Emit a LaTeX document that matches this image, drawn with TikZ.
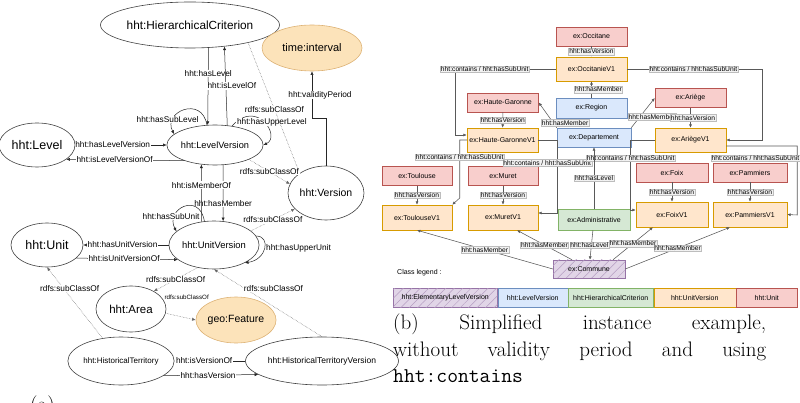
\documentclass[tikz,border=0pt]{standalone}
\usepackage{fontspec}
\newfontfamily\diafont{Liberation Sans}
\usetikzlibrary{shapes.geometric, arrows.meta, positioning, patterns.meta}
\definecolor{cunit}{HTML}{F8CECC}
\definecolor{cunitd}{HTML}{B85450}
\definecolor{cvers}{HTML}{FFE6CC}
\definecolor{cversd}{HTML}{D79B00}
\definecolor{clev}{HTML}{DAE8FC}
\definecolor{clevd}{HTML}{6C8EBF}
\definecolor{ccrit}{HTML}{D5E8D4}
\definecolor{ccritd}{HTML}{82B366}
\definecolor{celem}{HTML}{E1D5E7}
\definecolor{celemd}{HTML}{9673A6}
\definecolor{cext}{HTML}{FCE3BA}
\definecolor{cextd}{HTML}{DDB275}
\definecolor{clblbg}{HTML}{F2F2F2}
\definecolor{clbldr}{HTML}{BDBDBD}
\tikzset{
  % font size helper
  fs/.style={font=\diafont\fontsize{#1}{#1}\selectfont},
  % ontology class
  cls/.style={ellipse, draw=black!75, line width=0.6pt, inner sep=0pt},
  extcls/.style={cls, fill=cext, draw=cextd},
  % property between classes
  prop/.style={-{Latex[length=3.6pt,width=3.2pt]}, line width=0.5pt, black!85},
  subcl/.style={prop, densely dotted, black!60},
  plbl/.style={fs=8.3, fill=white, inner sep=0.6pt, text=black},
  % instance boxes
  inst/.style={draw, line width=0.5pt, minimum width=71pt, minimum height=19pt,
    inner sep=0pt, fs=7},
  iunit/.style={inst, fill=cunit, draw=cunitd},
  ivers/.style={inst, fill=cvers, draw=cversd, minimum height=24pt},
  ilev/.style={inst, fill=clev, draw=clevd},
  icrit/.style={inst, fill=ccrit, draw=ccritd},
  ielem/.style={inst, fill=celem, draw=celemd,
    postaction={pattern={Lines[angle=45,distance=6pt,line width=0.5pt]}, pattern color=celemd!70}},
  % links between instances
  link/.style={-{Latex[length=3.4pt,width=3pt]}, line width=0.55pt, black!65},
  ilbl/.style={fs=6.7, fill=clblbg, draw=clbldr, line width=0.3pt, inner sep=0.7pt, text=black},
}
\begin{document}
\begin{tikzpicture}[x=1pt, y=-1pt, node distance=0pt]
  \useasboundingbox (0,0) rectangle (800,403);
  \node[cls, minimum width=144pt, minimum height=46pt, fs=11.8] (hc) at (190,25) {hht:HierarchicalCriterion};
  \node[extcls, minimum width=100pt, minimum height=46pt, fs=11] (ti) at (312,48) {time:interval};
  \node[cls, minimum width=76pt, minimum height=44pt, fs=12.5] (lvl) at (37,145) {hht:Level};
  \node[cls, minimum width=76pt, minimum height=40pt, fs=9.2] (lv) at (215,145) {hht:LevelVersion};
  \node[cls, minimum width=76pt, minimum height=54pt, fs=10.5] (vs) at (326,193) {hht:Version};
  \node[cls, minimum width=76pt, minimum height=48pt, fs=9.4] (uv) at (214,245) {hht:UnitVersion};
  \node[cls, minimum width=72pt, minimum height=44pt, fs=12.5] (un) at (47,245) {hht:Unit};
  \node[cls, minimum width=70pt, minimum height=46pt, fs=11.5] (ar) at (131,309) {hht:Area};
  \node[extcls, minimum width=70pt, minimum height=46pt, fs=10.5] (gf) at (236,320) {geo:Feature};
  \node[cls, minimum width=92pt, minimum height=48pt, fs=8] (ht) at (121,361) {hht:HistoricalTerritory};
  \node[cls, minimum width=126pt, minimum height=48pt, fs=8.5] (htv) at (322,361) {hht:HistoricalTerritoryVersion};
  \draw[prop] (hc.-51) -- node[plbl, pos=0.33] {hht:hasLevel} (lv.110);
  \draw[prop] (lv.58) -- node[plbl, pos=0.5, xshift=6pt] {hht:isLevelOf} (hc.-32);
  \draw[prop] (lvl.east) -- node[plbl, pos=0.41] {hht:hasLevelVersion} (lv.west);
  \draw[prop] (lv.-153) -- node[plbl, pos=0.59] {hht:isLevelVersionOf} (lvl.-26);
  \draw[prop] (lv.112) .. controls +(-5,-30) and +(-12,-22) .. node[plbl, pos=0.75, xshift=-6pt] {hht:hasSubLevel} (lv.165);
  \draw[prop] (lv.48) .. controls +(25,-28) and +(18,-8) .. node[plbl, pos=0.5, xshift=8pt] {hht:hasUpperLevel} (lv.east);
  \draw[prop] (lv.-68) -- node[plbl, pos=0.68] {hht:hasMember} (uv.69);
  \draw[prop] (uv.118) -- node[plbl, pos=0.64] {hht:isMemberOf} (lv.-125);
  \draw[prop] (uv.112) .. controls +(-5,-30) and +(-12,-22) .. node[plbl, pos=0.75, xshift=-4pt] {hht:hasSubUnit} (uv.160);
  \draw[prop] (uv.12) .. controls +(15,0) and +(22,-3) .. node[plbl, pos=0.5, anchor=west, xshift=1pt] {hht:hasUpperUnit} (uv.-30);
  \draw[prop] (uv.west) -- node[plbl, pos=0.54] {hht:hasUnitVersion} (un.east);
  \draw[prop] (un.-24) -- node[plbl, pos=0.47] {hht:isUnitVersionOf} (uv.-158);
  \draw[subcl] (hc.-17) -- node[plbl, pos=0.51] {rdfs:subClassOf} (vs.143);
  \draw[subcl] (lv.-23) -- node[plbl, pos=0.5] {rdfs:subClassOf} (vs.166);
  \draw[subcl] (uv.21) -- node[plbl, pos=0.5] {rdfs:subClassOf} (vs.-153);
  \draw[subcl] (uv.-126) -- node[plbl, pos=0.5] {rdfs:subClassOf} (ar.38);
  \draw[subcl] (ar.-7) -- node[plbl, fs=6.2, pos=0.5, xshift=6pt, yshift=19pt] {rdfs:subClassOf} (gf.west);
  \draw[subcl] (ht.129) -- node[plbl, pos=0.7, xshift=6pt] {rdfs:subClassOf} (un.south);
  \draw[subcl] (htv.north) -- node[plbl, pos=0.45, yshift=18pt] {rdfs:subClassOf} (uv.south);
  \draw[prop] (htv.west) -- node[plbl, pos=0.58] {hht:isVersionOf} (ht.east);
  \draw[prop] (ht.-19) -- node[plbl, pos=0.47] {hht:hasVersion} (htv.-168);
  \draw[prop] (vs.north) -- ++(0,-47) -| node[plbl, pos=0.75, xshift=8pt] {hht:validityPeriod} (ti.south);
  \node[anchor=north west, inner sep=0pt, font=\fontsize{21}{26.5}\selectfont] (capa) at (30,396) {(a)};

  \node[iunit] (occ) at (591.5,36.5) {ex:Occitane};
  \node[ivers] (occv) at (591.5,69) {ex:OccitanieV1};
  \node[ilev, minimum height=20pt] (reg) at (591.5,108) {ex:Region};
  \node[iunit] (hg) at (503,102.5) {ex:Haute-Garonne};
  \node[ivers] (hgv) at (502.5,140) {ex:Haute-GaronneV1};
  \node[ilev, minimum width=74pt] (dep) at (594,137.5) {ex:Departement};
  \node[iunit] (ari) at (690.5,98) {ex:Ariège};
  \node[ivers] (ariv) at (690.5,140) {ex:AriègeV1};
  \node[iunit, minimum width=70pt] (tou) at (417,176) {ex:Toulouse};
  \node[ivers, minimum width=70pt, minimum height=25pt] (touv) at (417,217.5) {ex:ToulouseV1};
  \node[iunit, minimum width=70pt] (mur) at (503,176) {ex:Muret};
  \node[ivers, minimum width=70pt, minimum height=25pt] (murv) at (503,217.5) {ex:MuretV1};
  \node[icrit, minimum width=72pt, minimum height=21pt] (adm) at (594,219.5) {ex:Administrative};
  \node[iunit, minimum width=72pt] (foi) at (672,172.5) {ex:Foix};
  \node[ivers, minimum width=72pt, minimum height=25pt] (foiv) at (672,214.5) {ex:FoixV1};
  \node[iunit, minimum width=74pt] (pam) at (750,172.5) {ex:Pammiers};
  \node[ivers, minimum width=74pt, minimum height=25pt] (pamv) at (750,214.5) {ex:PammiersV1};
  \node[ielem, minimum width=72pt, minimum height=18pt] (com) at (589,269) {ex:Commune};
  \draw[link] (occ) -- node[ilbl] {hht:hasVersion} (occv);
  \draw[link] (reg) -- node[ilbl, xshift=7pt] {hht:hasMember} (occv);
  \draw[link] (hg) -- node[ilbl] {hht:hasVersion} (hgv);
  \draw[link] (tou) -- node[ilbl] {hht:hasVersion} (touv);
  \draw[link] (mur) -- node[ilbl] {hht:hasVersion} (murv);
  \draw[link] (foi) -- node[ilbl] {hht:hasVersion} (foiv);
  \draw[link] (pam) -- node[ilbl] {hht:hasVersion} (pamv);
  \draw[link] (dep.north west) -- node[ilbl, pos=0.2, xshift=12pt] {hht:hasMember} (hg.east);
  \draw[link] (dep.north east) -- node[ilbl, pos=0.37, xshift=12pt] {hht:hasMember} (ari.west);
  \draw[link] (ari) -- node[ilbl, xshift=2.5pt] {hht:hasVersion} (ariv);
  \draw[link] (occv.west) -- node[ilbl, pos=0.71] {hht:contains / hht:hasSubUnit} ++(-100,0) |- ([yshift=5pt]hgv.west);
  \draw[link] (occv.east) -- node[ilbl, pos=0.49] {hht:contains / hht:hasSubUnit} ++(135,0) |- (ariv.east);
  \draw[link] (hgv.west) -- ++(-7,0) -- node[ilbl, pos=0.29] {hht:contains / hht:hasSubUnit} ++(0,58) -- (touv.north east);
  \draw[link] (hgv.east) -- ++(19,0) -- node[ilbl, pos=0.31, xshift=-10pt] {hht:contains / hht:hasSubUnit} ++(0,73) -- ([yshift=4.5pt]murv.east);
  \draw[link] (ariv.west) -- ++(-24,0) -- node[ilbl, pos=0.26] {hht:contains / hht:hasSubUnit} ++(0,70) -- ([yshift=4.5pt]foiv.west);
  \draw[link] ([yshift=-6pt]ariv.east) -- node[ilbl, pos=0.41, yshift=-12pt] {hht:contains / hht:hasSubUnit} ++(71,0) -- ++(0,69) -- (pamv.east);
  \draw[link] (adm) -- node[ilbl] {hht:hasLevel} (dep);
  \draw[link] (adm) -- node[ilbl, xshift=-2pt] {hht:hasLevel} (com);
  \draw[link] (com.west) -- node[ilbl] {hht:hasMember} (touv.south);
  \draw[link] ([xshift=-17pt]com.north) -- node[ilbl] {hht:hasMember} ([xshift=14pt]murv.south);
  \draw[link] ([xshift=24pt]com.north) -- node[ilbl] {hht:hasMember} ([xshift=-19pt]foiv.south);
  \draw[link] (com.east) -- node[ilbl] {hht:hasMember} ([xshift=-20pt]pamv.south);
  \node[anchor=west, fs=7, inner sep=0pt] (leg) at (397,273) {Class legend :};
  \node[ielem, minimum width=104pt, anchor=west] (kel) at (393,297.5) {hht:ElementaryLevelVersion};
  \node[ilev, minimum width=70pt, right=of kel] (klv) {hht:LevelVersion};
  \node[icrit, minimum width=85pt, right=of klv] (khc) {hht:HierarchicalCriterion};
  \node[ivers, minimum width=82pt, minimum height=19pt, right=of khc] (kuv) {hht:UnitVersion};
  \node[iunit, minimum width=61pt, right=of kuv] (kun) {hht:Unit};
  \node[anchor=north west, text width=373pt, align=justify, inner sep=0pt,
    font=\fontsize{21}{26.5}\selectfont] (capb) at (393,314)
    {(b) Simplified instance example,\linebreak without validity period and using\linebreak \texttt{hht:contains}};
\end{tikzpicture}
\end{document}
